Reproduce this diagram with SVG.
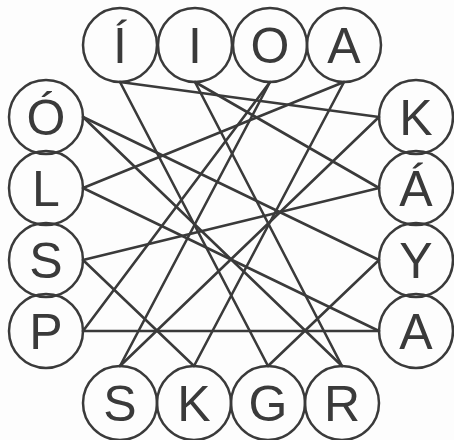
<svg xmlns="http://www.w3.org/2000/svg" width="454" height="440" viewBox="0 0 454 440">
<style>
.n circle{fill:none;stroke:#3a3a3a;stroke-width:2.5}
.n text{font-family:"Liberation Sans",Arial,sans-serif;font-size:50px;fill:#3a3a3a;text-anchor:middle}
#edges line{stroke:#3a3a3a;stroke-width:2.6;stroke-linecap:round}
</style>
<rect width="454" height="440" fill="#fdfdfd"/>
<g id="edges">
<line x1="120" y1="82" x2="379" y2="117"/>
<line x1="120" y1="82" x2="268" y2="366"/>
<line x1="195" y1="82" x2="342" y2="366"/>
<line x1="195" y1="82" x2="379" y2="188"/>
<line x1="270" y1="82" x2="83" y2="331"/>
<line x1="270" y1="82" x2="120" y2="366"/>
<line x1="344" y1="82" x2="83" y2="188"/>
<line x1="344" y1="82" x2="194" y2="366"/>
<line x1="83" y1="117" x2="379" y2="260"/>
<line x1="83" y1="117" x2="342" y2="366"/>
<line x1="83" y1="188" x2="379" y2="331"/>
<line x1="83" y1="260" x2="379" y2="188"/>
<line x1="83" y1="260" x2="194" y2="366"/>
<line x1="83" y1="331" x2="379" y2="331"/>
<line x1="379" y1="117" x2="120" y2="366"/>
<line x1="379" y1="260" x2="268" y2="366"/>
</g>
<g id="t1" class="n"><circle cx="120" cy="45" r="37"/><text x="120" y="63">Í</text></g>
<g id="t2" class="n"><circle cx="195" cy="45" r="37"/><text x="195" y="63">I</text></g>
<g id="t3" class="n"><circle cx="270" cy="45" r="37"/><text x="270" y="63">O</text></g>
<g id="t4" class="n"><circle cx="344" cy="45" r="37"/><text x="344" y="63">A</text></g>
<g id="l1" class="n"><circle cx="46" cy="117" r="37"/><text x="46" y="135">Ó</text></g>
<g id="l2" class="n"><circle cx="46" cy="188" r="37"/><text x="46" y="206">L</text></g>
<g id="l3" class="n"><circle cx="46" cy="260" r="37"/><text x="46" y="278">S</text></g>
<g id="l4" class="n"><circle cx="46" cy="331" r="37"/><text x="46" y="349">P</text></g>
<g id="r1" class="n"><circle cx="416" cy="117" r="37"/><text x="416" y="135">K</text></g>
<g id="r2" class="n"><circle cx="416" cy="188" r="37"/><text x="416" y="206">Á</text></g>
<g id="r3" class="n"><circle cx="416" cy="260" r="37"/><text x="416" y="278">Y</text></g>
<g id="r4" class="n"><circle cx="416" cy="331" r="37"/><text x="416" y="349">A</text></g>
<g id="b1" class="n"><circle cx="120" cy="403" r="37"/><text x="120" y="421">S</text></g>
<g id="b2" class="n"><circle cx="194" cy="403" r="37"/><text x="194" y="421">K</text></g>
<g id="b3" class="n"><circle cx="268" cy="403" r="37"/><text x="268" y="421">G</text></g>
<g id="b4" class="n"><circle cx="342" cy="403" r="37"/><text x="342" y="421">R</text></g>
</svg>
